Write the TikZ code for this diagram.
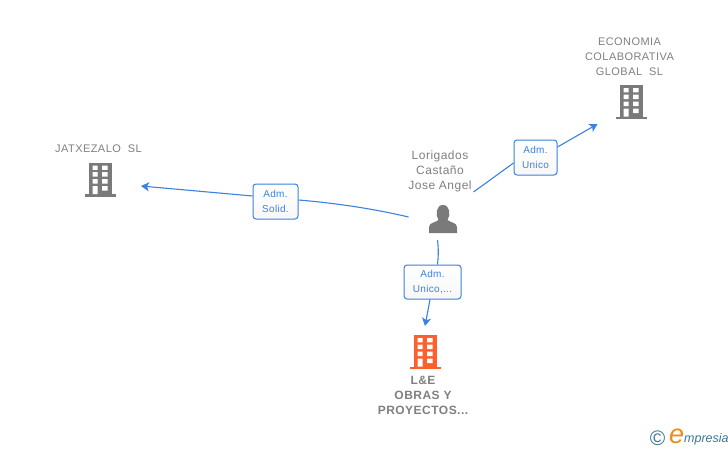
\documentclass[tikz,border=0pt]{standalone}
\usepackage{fontspec}
\setmainfont{Liberation Sans}
\newfontfamily\spaced[LetterSpace=4]{Liberation Sans}
\newfontfamily\labelfont[LetterSpace=3]{Liberation Sans}
\usetikzlibrary{arrows.meta}
\definecolor{linkblue}{HTML}{3B82E0}
\definecolor{txtgray}{HTML}{808080}
\definecolor{icongray}{HTML}{7A7A7A}
\definecolor{iconorange}{HTML}{FF5F2E}
\definecolor{logoteal}{HTML}{3A7A94}
\definecolor{logoorange}{HTML}{F08A1D}
\tikzset{
  x=1pt,y=-1pt,
  entname/.style={text=txtgray,font=\spaced\fontsize{11}{15}\selectfont,align=center,inner sep=0pt},
  entbold/.style={text=txtgray,font=\spaced\bfseries\fontsize{12}{15}\selectfont,align=center,inner sep=0pt},
  rolebox/.style={draw=linkblue,line width=1pt,rounded corners=3pt,top color=white,bottom color=gray!6,
    text=linkblue,font=\labelfont\fontsize{10}{15.5}\selectfont,align=center,inner sep=0pt},
  link/.style={draw=linkblue,line width=1.1pt},
  linkarrow/.style={link,-{Stealth[length=8pt,width=9pt,inset=2pt]}},
  pics/tower/.style={code={
    \fill[#1] (-11.2,-34) rectangle (11.2,-2);
    \fill[#1] (-15.8,-2.4) rectangle (15.8,0);
    \fill[white]
      (-8,-31) rectangle (-3,-26.6) (1.7,-31) rectangle (7,-26.6)
      (-8,-24.4) rectangle (-3,-20) (1.7,-24.4) rectangle (7,-20)
      (-8,-17.4) rectangle (-3,-13) (1.7,-17.4) rectangle (7,-13)
      (-8,-10.4) rectangle (-3,-2.4) (1.7,-10.4) rectangle (7,-5.8);
  }},
}
\begin{document}
\begin{tikzpicture}
\useasboundingbox (0,0) rectangle (728,450);
\fill[white] (0,0) rectangle (728,450);

% companies
\pic at (631.5,119) {tower=icongray};
\pic at (100.5,196.5) {tower=icongray};
\pic at (425.5,369) {tower=iconorange};
\node[entname] (eco) at (629.5,56.5) {ECONOMIA\\COLABORATIVA\\GLOBAL\ \ SL};
\node[entname] (jat) at (98.5,149) {JATXEZALO\ \ SL};
\node[entbold] (lne) at (423,395.5) {L\&E\\OBRAS Y\\PROYECTOS...};

% person
\node[entname,font=\spaced\fontsize{12}{15}\selectfont] (per) at (440,171.5) {Lorigados\\Castaño\\Jose Angel};
\fill[icongray] (429,233) -- (429,227) .. controls (429,222.5) and (436,222.5) .. (438.5,220)
  .. controls (435,215) and (436,205) .. (443,205)
  .. controls (450,205) and (451,215) .. (447.5,220)
  .. controls (450,222.5) and (457,222.5) .. (457,227) -- (457,233) -- cycle;

% free ends
\coordinate (p1) at (408.5,217);
\coordinate (p2) at (473.5,192);
\coordinate (p3) at (437.5,240);
\coordinate (e1) at (141,186);
\coordinate (e2) at (597.5,124);
\coordinate (e3) at (425,326);
\coordinate (s3) at (430,0);

% role boxes
\node[rolebox,minimum width=45pt,minimum height=35pt] (b1) at (275.5,201.5) {Adm.\\Solid.};
\node[rolebox,minimum width=43pt,minimum height=35pt] (b2) at (535.5,157.5) {Adm.\\Unico};
\node[rolebox,minimum width=57pt,minimum height=34pt] (b3) at (432.5,282) {Adm.\\Unico,...};

% connectors
\draw[link] (p1) .. controls (375,209) and (335,203) .. ([yshift=1.5pt]b1.east);
\draw[linkarrow] ([yshift=5.5pt]b1.west) -- (e1);
\draw[link] (p2) -- ([yshift=-5.5pt]b2.west);
\draw[linkarrow] ([yshift=10.5pt]b2.east) -- (e2);
\draw[link] (p3) .. controls (438.5,248) and (438.5,256) .. (b3.north -| p3);
\draw[linkarrow] (b3.south -| s3) -- (e3);

% logo
\node[inner sep=0pt,text=logoteal,font=\fontsize{21}{21}\selectfont] (cc) at (657.5,438.5) {©};
\node[inner sep=0pt,text=logoorange,font=\itshape\fontsize{27}{27}\selectfont] (le) at (676.5,436) {e};
\node[inner sep=0pt,text=logoteal,anchor=west,font=\itshape\fontsize{12.5}{13}\selectfont] (lw) at (684,439) {mpresia};
\end{tikzpicture}
\end{document}
